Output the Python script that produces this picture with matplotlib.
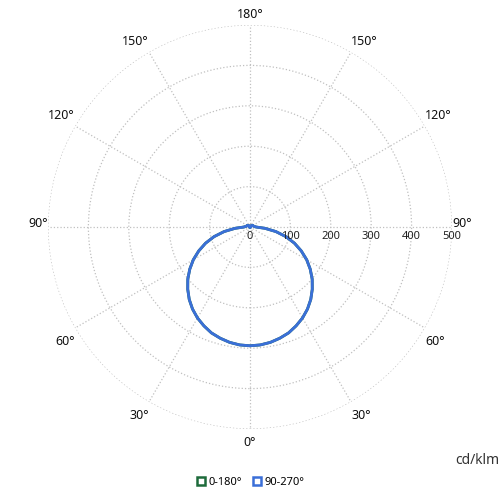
import matplotlib.pyplot as plt
import numpy as np

plt.rcParams['font.family'] = ['Noto Sans', 'DejaVu Sans']

# gamma angles (deg) and intensities (cd/klm)
gamma = list(range(0, 181, 5))
c0_180 = [294, 293, 290, 285, 279, 270, 260, 248, 234, 218, 201, 182, 162, 140, 117, 92,
          65, 37, 15, 12, 10, 9, 8, 8, 7, 7, 6, 5, 4, 3, 2, 2, 1, 1, 1, 0, 0]
c90_270 = [294, 293, 290, 285, 279, 270, 260, 248, 234, 218, 201, 182, 162, 140, 117, 92,
           65, 37, 15, 12, 10, 9, 8, 8, 7, 7, 6, 5, 4, 3, 2, 2, 1, 1, 1, 0, 0]

angle_ticks = list(range(0, 360, 30))
angle_labels = ['0°', '30°', '60°', '90°', '120°', '150°', '180°',
                '150°', '120°', '90°', '60°', '30°']
r_ticks = [0, 100, 200, 300, 400, 500]

g = np.array(gamma)
theta = np.radians(np.concatenate([-g[::-1], g[1:]]))

fig = plt.figure(figsize=(5, 5), dpi=100)
ax = fig.add_axes([0.096, 0.142, 0.808, 0.808], projection='polar')
ax.set_theta_zero_location('S')

for vals, col in [(c0_180, '#1d6b3b'), (c90_270, '#3a6fd8')]:
    v = np.array(vals)
    r = np.concatenate([v[::-1], v[1:]])
    ax.plot(theta, r, color=col, linewidth=2)

ax.set_ylim(0, 500)
ax.set_yticks(r_ticks[1:])
ax.set_yticklabels([])
ax.set_xticks(np.radians(angle_ticks))
ax.set_xticklabels([])
ax.grid(color='#c0c0c0', linestyle=':', linewidth=0.9)
ax.spines['polar'].set_visible(False)

# angle labels around the outer ring
for a, lab in zip(angle_ticks, angle_labels):
    s = np.sin(np.radians(a))
    c = np.cos(np.radians(a))
    if abs(s) < 0.01:
        ha = 'center'
    else:
        ha = 'left' if s > 0 else 'right'
    if c > 0.01:
        va, dy = 'top', -5
    elif abs(c) < 0.01:
        va, dy = 'bottom', -2
    else:
        va, dy = 'bottom', 3
    ax.annotate(lab, xy=(np.radians(a), 500), xytext=(0, dy), textcoords='offset points',
                ha=ha, va=va, fontsize=9, color='#111111', annotation_clip=False)

for rv in r_ticks:
    ax.annotate(str(rv), xy=(np.pi / 2, rv), xytext=(0, -3), textcoords='offset points',
                ha='center', va='top', fontsize=8, color='#222222')

fig.text(0.998, 0.078, 'cd/klm', ha='right', va='center', fontsize=10, color='#333333')

handles = [
    plt.Line2D([], [], marker='s', linestyle='none', markersize=6,
               markerfacecolor='white', markeredgecolor='#1d6b3b', markeredgewidth=1.8),
    plt.Line2D([], [], marker='s', linestyle='none', markersize=6,
               markerfacecolor='white', markeredgecolor='#3a6fd8', markeredgewidth=1.8),
]
fig.legend(handles, ['0-180°', '90-270°'], loc='center', bbox_to_anchor=(0.5, 0.035),
           ncol=2, frameon=False, fontsize=8, handletextpad=0.2, columnspacing=0.8,
           handlelength=1)

plt.savefig('out.png')
